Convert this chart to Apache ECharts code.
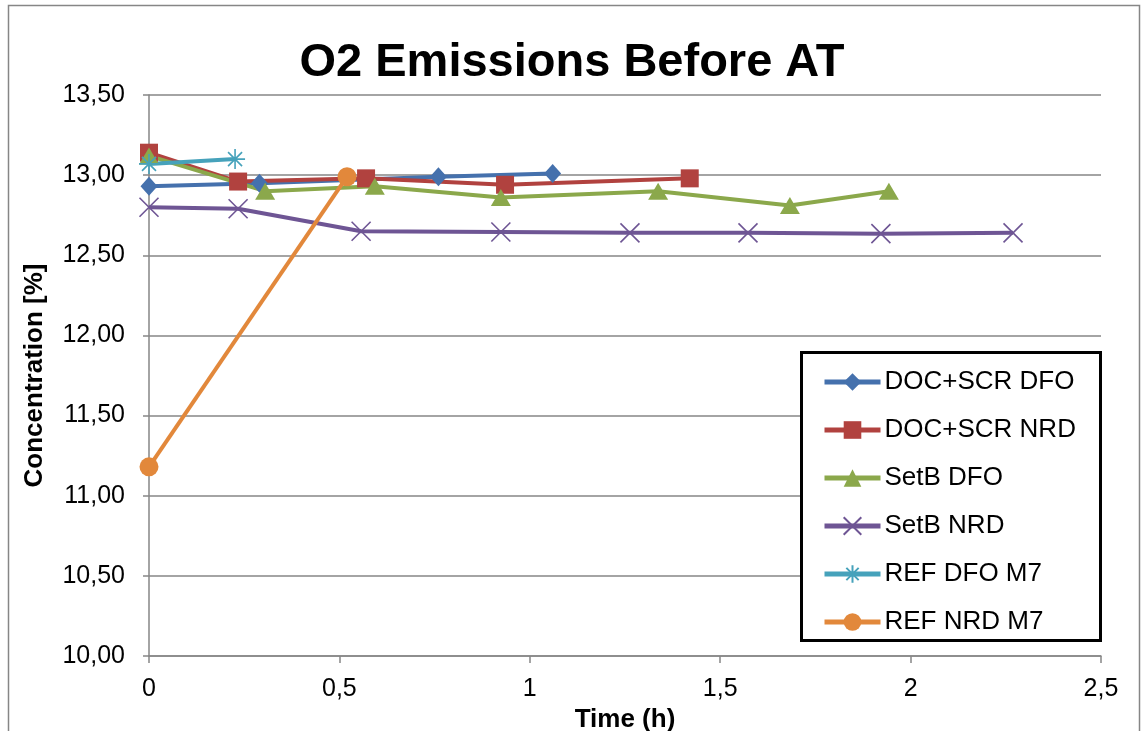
<!DOCTYPE html>
<html>
<head>
<meta charset="utf-8">
<script src="https://cdn.jsdelivr.net/npm/echarts@6/dist/echarts.min.js"></script>
<style>
  html, body { margin: 0; padding: 0; background: #fff; }
  #chart { width: 1144px; height: 731px; }
</style>
</head>
<body>
<div id="chart"></div>
<script>
// O2 concentration over time, measured before the aftertreatment (AT)
const seriesNames = ['DOC+SCR DFO', 'DOC+SCR NRD', 'SetB DFO', 'SetB NRD', 'REF DFO M7', 'REF NRD M7'];

// [time (h), concentration (%)]
const docScrDfo = [[0, 12.93], [0.29, 12.95], [0.76, 12.99], [1.06, 13.01]];
const docScrNrd = [[0, 13.14], [0.234, 12.96], [0.57, 12.98], [0.935, 12.94], [1.42, 12.98]];
const setBDfo = [[0, 13.12], [0.305, 12.90], [0.593, 12.93], [0.924, 12.86], [1.337, 12.90], [1.683, 12.81], [1.943, 12.90]];
const setBNrd = [[0, 12.80], [0.234, 12.79], [0.557, 12.65], [0.924, 12.645], [1.263, 12.64], [1.573, 12.64], [1.922, 12.635], [2.269, 12.64]];
const refDfoM7 = [[0, 13.07], [0.226, 13.10]];
const refNrdM7 = [[0, 11.18], [0.52, 12.99]];

const seriesData = [docScrDfo, docScrNrd, setBDfo, setBNrd, refDfoM7, refNrdM7];
const seriesColors = ['#4571ad', '#b1423f', '#8ba84b', '#6e5594', '#46a2bb', '#e2883b'];

const crossPath = 'path://M0,0L10,10M10,0L0,10';
const starPath = 'path://M5,0L5,10M0,5L10,5M1.5,1.5L8.5,8.5M8.5,1.5L1.5,8.5';
const symbols = ['diamond', 'rect', 'triangle', crossPath, starPath, 'circle'];
const symbolSizes = [[17, 19], 18, [20, 17], 19, 20, 19];

const font = '"Liberation Sans", Arial, sans-serif';
const comma = v => String(v).replace('.', ',');

const chart = echarts.init(document.getElementById('chart'));

const series = seriesNames.map((name, i) => {
  const stroked = i === 3 || i === 4;
  return {
    name,
    type: 'line',
    data: seriesData[i],
    symbol: symbols[i],
    symbolSize: symbolSizes[i],
    showAllSymbol: true,
    lineStyle: { color: seriesColors[i], width: 4 },
    itemStyle: stroked
      ? { color: seriesColors[i], borderColor: seriesColors[i], borderWidth: 1.6 }
      : { color: seriesColors[i] },
    emphasis: { disabled: true },
    animation: false
  };
});

chart.setOption({
  backgroundColor: '#fff',
  animation: false,
  title: {
    text: 'O2 Emissions Before AT',
    left: 'center',
    top: 35,
    textStyle: { fontFamily: font, fontSize: 47, fontWeight: 'bold', color: '#000' }
  },
  graphic: [
    {
      type: 'rect',
      shape: { x: 8.5, y: 5.5, width: 1131, height: 740 },
      style: { fill: 'none', stroke: '#868686', lineWidth: 1.5 },
      silent: true
    },
    {
      type: 'rect',
      shape: { x: 801.5, y: 352.5, width: 299, height: 288 },
      style: { fill: '#fff', stroke: '#000', lineWidth: 3 },
      z: 4,
      silent: true
    }
  ],
  legend: {
    orient: 'vertical',
    left: 817,
    top: 364,
    itemWidth: 56,
    itemHeight: 22,
    itemGap: 22,
    z: 5,
    data: seriesNames,
    lineStyle: { width: 5 },
    textStyle: { fontFamily: font, fontSize: 26, color: '#000', padding: [0, 0, 0, -1] },
    selectedMode: false
  },
  grid: { left: 149, right: 43, top: 95, bottom: 75, containLabel: false, outerBoundsMode: 'none' },
  xAxis: {
    type: 'value',
    min: 0,
    max: 2.5,
    interval: 0.5,
    name: 'Time (h)',
    nameLocation: 'middle',
    nameGap: 44,
    nameTextStyle: { fontFamily: font, fontSize: 26, fontWeight: 'bold', color: '#000' },
    axisLine: { show: true, onZero: false, lineStyle: { color: '#868686', width: 1.5 } },
    axisTick: { show: true, length: 7, lineStyle: { color: '#868686', width: 1.5 } },
    axisLabel: { fontFamily: font, fontSize: 25, color: '#000', margin: 21, formatter: comma },
    splitLine: { show: false }
  },
  yAxis: {
    type: 'value',
    min: 10,
    max: 13.5,
    interval: 0.5,
    name: 'Concentration [%]',
    nameLocation: 'middle',
    nameGap: 101,
    nameRotate: 90,
    nameTextStyle: { fontFamily: font, fontSize: 26, fontWeight: 'bold', color: '#000' },
    axisLine: { show: true, lineStyle: { color: '#868686', width: 1.5 } },
    axisTick: { show: true, length: 6, lineStyle: { color: '#868686', width: 1.5 } },
    axisLabel: { fontFamily: font, fontSize: 25, color: '#000', margin: 24, formatter: v => v.toFixed(2).replace('.', ',') },
    splitLine: { show: true, lineStyle: { color: '#868686', width: 1.5 } }
  },
  series
});
</script>
</body>
</html>
